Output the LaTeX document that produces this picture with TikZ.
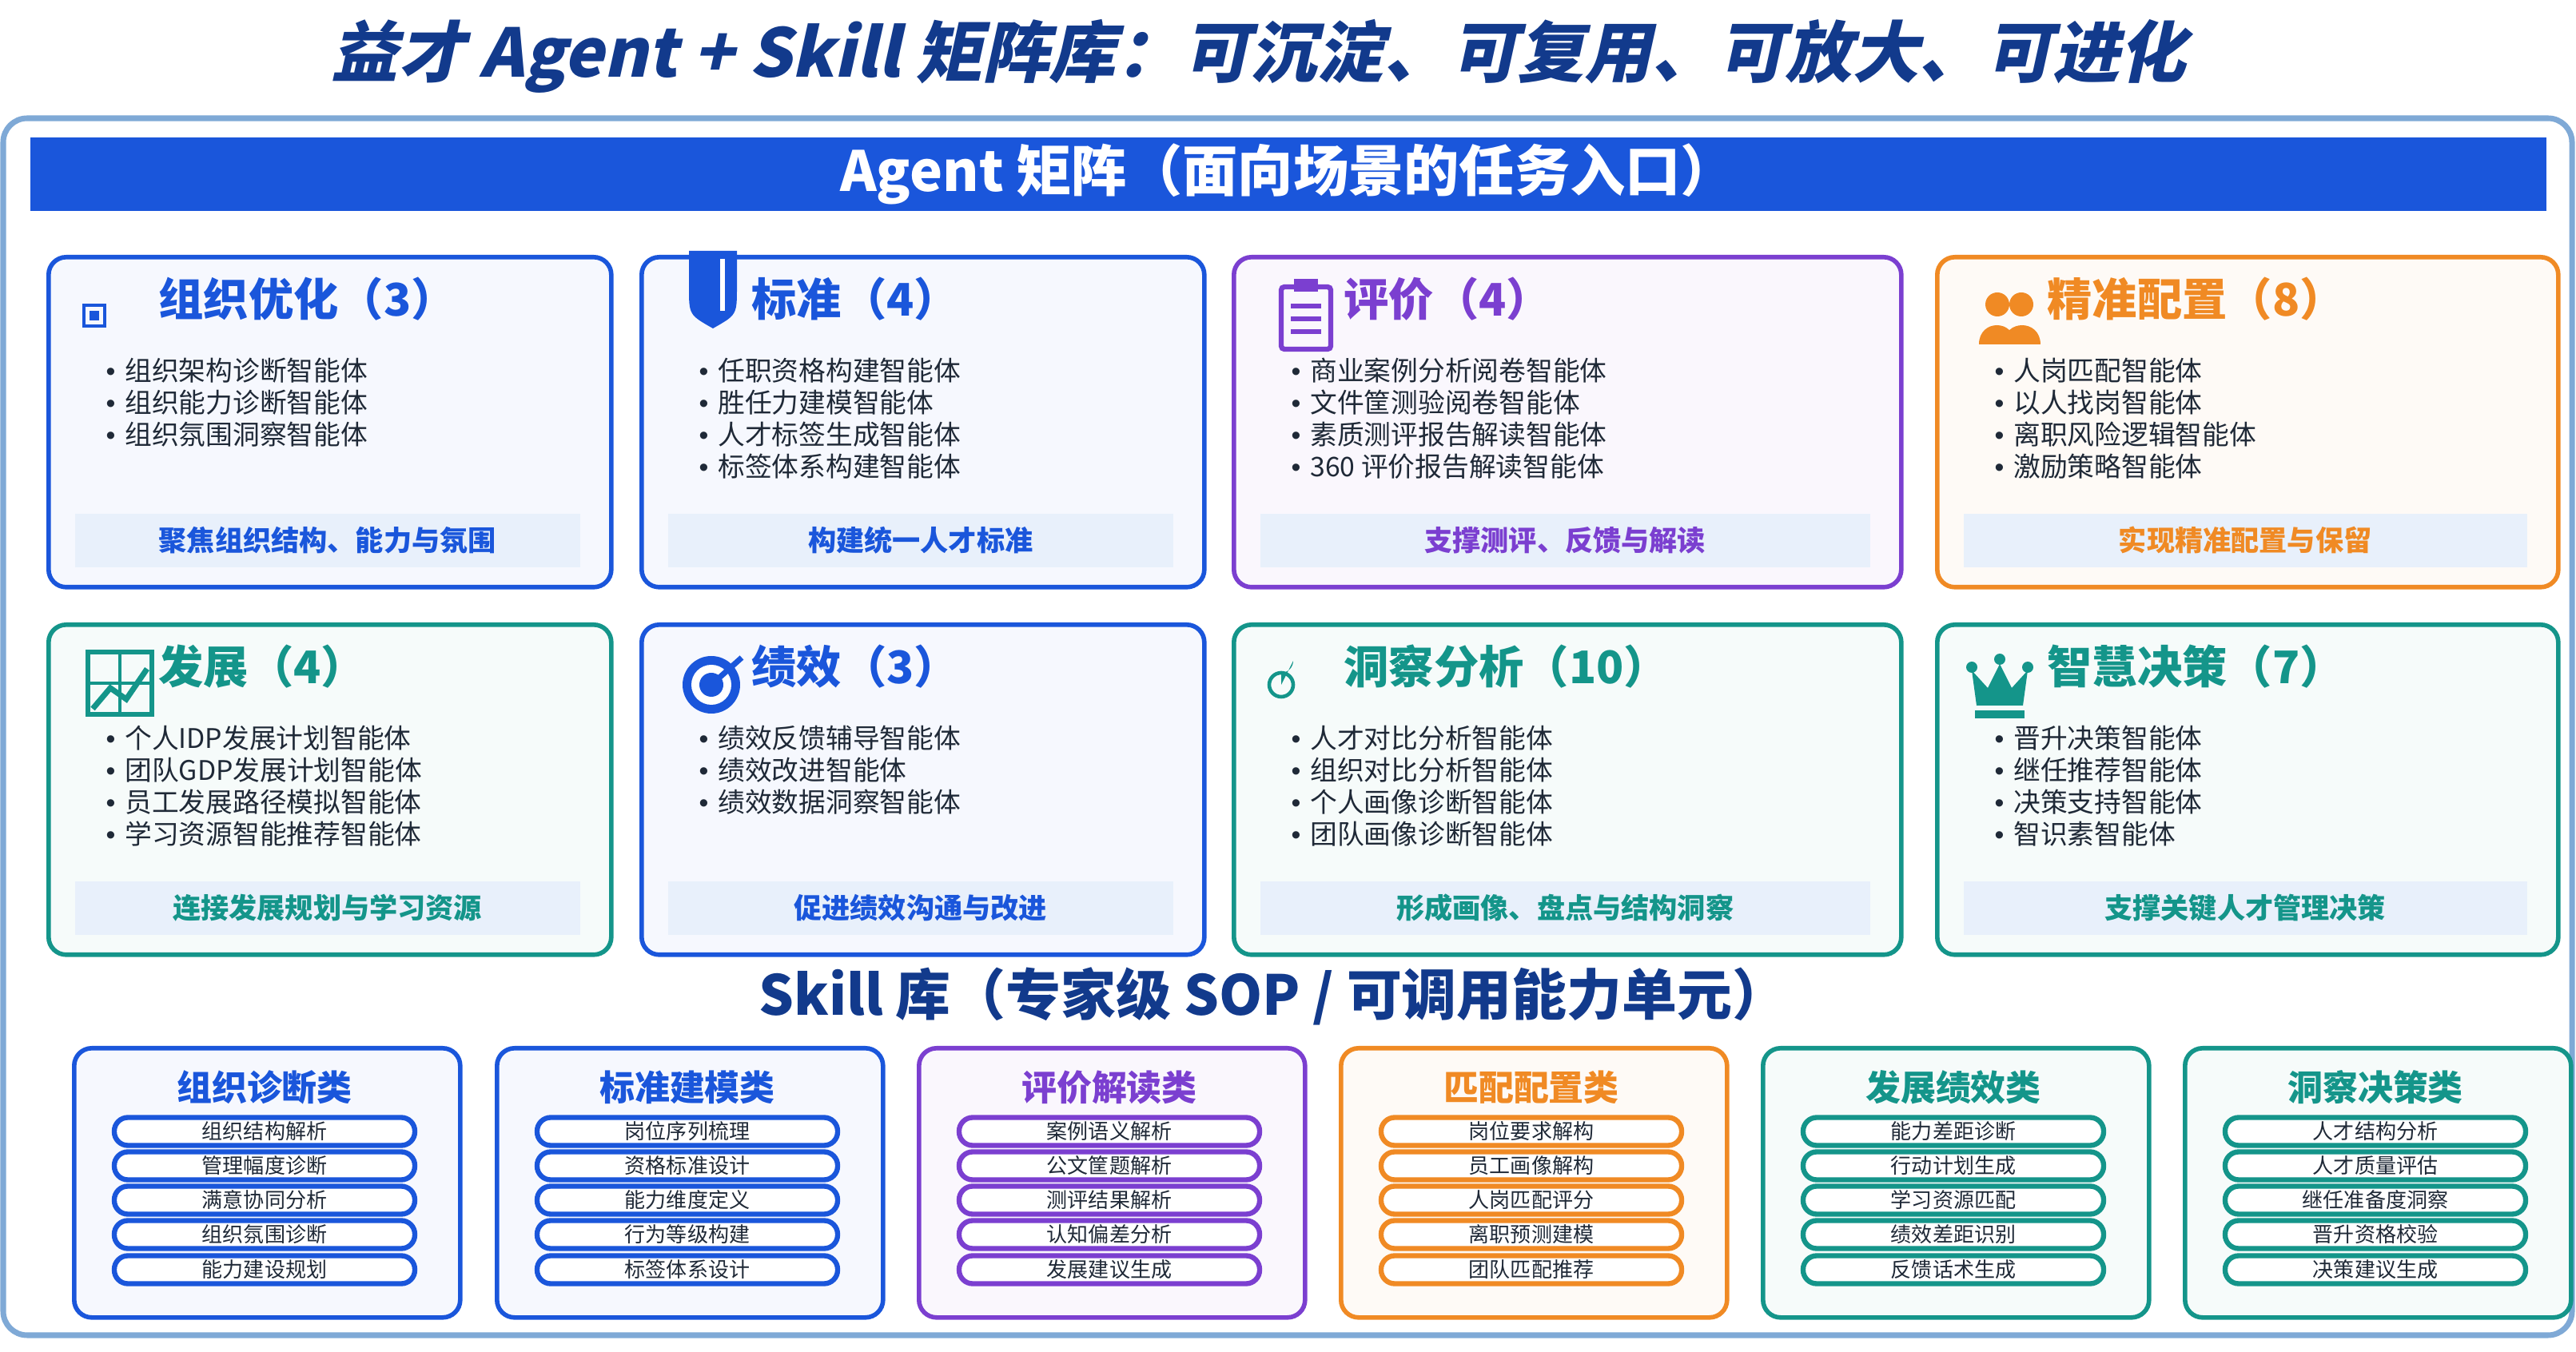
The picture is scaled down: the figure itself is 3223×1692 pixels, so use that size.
\documentclass[tikz,border=0pt]{standalone}
\usepackage{fontspec}
\setmainfont{Noto Sans CJK SC}
\newfontfamily\titlefont{Noto Sans CJK SC}[FakeSlant=0.22]
\newfontfamily\lat{Liberation Sans}
\newcommand\bul{{\lat •}\hspace{0.35em}}
\usetikzlibrary{calc}
\definecolor{cblue}{HTML}{1A56DB}
\definecolor{cpurple}{HTML}{7B3FD0}
\definecolor{corange}{HTML}{F08A24}
\definecolor{cteal}{HTML}{14958A}
\definecolor{navy}{HTML}{123A8C}
\definecolor{dtext}{HTML}{1F2937}
\definecolor{panel}{HTML}{7FA9D6}
\definecolor{foot}{HTML}{E8F0FB}
\tikzset{
  card/.style={draw=#1, line width=1.6pt, rounded corners=22*0.01cm, fill=#1!4!white, inner sep=0pt},
  footbox/.style={fill=foot, inner sep=0pt, text=#1, font=\fontsize{10}{12}\selectfont\bfseries},
  pill/.style={draw=#1, line width=1.8pt, fill=white, rounded corners=17*0.01cm, minimum width=376*0.01cm, minimum height=35*0.01cm, inner sep=0pt, font=\fontsize{7.4}{8}\selectfont, text=dtext},
}
% #1 name #2 x #3 y #4 w #5 color #6 title #7 bullets #8 footer
\newcommand\acard[8]{%
  \node[card=#5, minimum width=#4*0.01cm, minimum height=413*0.01cm, anchor=north west] (#1) at (#2,#3) {};
  \node[anchor=west, inner sep=0pt, text=#5, font=\fontsize{16}{18}\selectfont\bfseries] (#1t) at ($(#1.north west)+(140,55)$) {#6};
  \node[anchor=north west, inner sep=0pt, align=left, text=dtext, font=\fontsize{9.6}{11.4}\selectfont] (#1b) at ($(#1.north west)+(74,128)$) {#7};
  \node[footbox=#5, minimum width=(#4-72)*0.01cm, minimum height=67*0.01cm, anchor=north west] (#1f) at ($(#1.north west)+(35,323)$) {#8};
}
% #1 name #2 x #3 color #4 title #5-#9 items
\newcommand\scard[9]{%
  \node[card=#3, minimum width=483*0.01cm, minimum height=337*0.01cm, anchor=north west] (#1) at (#2,1309) {};
  \node[text=#3, inner sep=0pt, font=\fontsize{12.5}{14}\selectfont\bfseries] (#1t) at ($(#1.north west)+(241,52)$) {#4};
  \node[pill=#3] (#1a) at ($(#1.north west)+(241,107)$) {#5};
  \node[pill=#3] (#1b) at ($(#1.north west)+(241,150)$) {#6};
  \node[pill=#3] (#1c) at ($(#1.north west)+(241,193)$) {#7};
  \node[pill=#3] (#1d) at ($(#1.north west)+(241,236)$) {#8};
  \node[pill=#3] (#1e) at ($(#1.north west)+(241,280)$) {#9};
}
\begin{document}
\begin{tikzpicture}[x=0.01cm,y=-0.01cm]
\useasboundingbox[fill=white] (0,0) rectangle (3223,1692);
\node[text=navy, font=\titlefont\fontsize{23.8}{27}\selectfont\bfseries] (title) at (1575,70) {益才 Agent + Skill 矩阵库：可沉淀、可复用、可放大、可进化};
\draw[panel, line width=2pt, fill=white, rounded corners=30*0.01cm] (4,148) rectangle (3218,1671);
\node[fill=cblue, minimum width=3148*0.01cm, minimum height=92*0.01cm, inner sep=0pt, text=white, font=\fontsize{19.7}{22}\selectfont\bfseries, anchor=north west] (banner) at (37,171) {Agent 矩阵（面向场景的任务入口）};

\acard{a1}{58}{319}{704}{cblue}{组织优化（3）}{\bul 组织架构诊断智能体\\\bul 组织能力诊断智能体\\\bul 组织氛围洞察智能体}{聚焦组织结构、能力与氛围}
\acard{a2}{800}{319}{704}{cblue}{标准（4）}{\bul 任职资格构建智能体\\\bul 胜任力建模智能体\\\bul 人才标签生成智能体\\\bul 标签体系构建智能体}{构建统一人才标准}
\acard{a3}{1541}{319}{835}{cpurple}{评价（4）}{\bul 商业案例分析阅卷智能体\\\bul 文件筐测验阅卷智能体\\\bul 素质测评报告解读智能体\\\bul 360 评价报告解读智能体}{支撑测评、反馈与解读}
\acard{a4}{2421}{319}{777}{corange}{精准配置（8）}{\bul 人岗匹配智能体\\\bul 以人找岗智能体\\\bul 离职风险逻辑智能体\\\bul 激励策略智能体}{实现精准配置与保留}
\acard{b1}{58}{779}{704}{cteal}{发展（4）}{\bul 个人IDP发展计划智能体\\\bul 团队GDP发展计划智能体\\\bul 员工发展路径模拟智能体\\\bul 学习资源智能推荐智能体}{连接发展规划与学习资源}
\acard{b2}{800}{779}{704}{cblue}{绩效（3）}{\bul 绩效反馈辅导智能体\\\bul 绩效改进智能体\\\bul 绩效数据洞察智能体}{促进绩效沟通与改进}
\acard{b3}{1541}{779}{835}{cteal}{洞察分析（10）}{\bul 人才对比分析智能体\\\bul 组织对比分析智能体\\\bul 个人画像诊断智能体\\\bul 团队画像诊断智能体}{形成画像、盘点与结构洞察}
\acard{b4}{2421}{779}{777}{cteal}{智慧决策（7）}{\bul 晋升决策智能体\\\bul 继任推荐智能体\\\bul 决策支持智能体\\\bul 智识素智能体}{支撑关键人才管理决策}

% icons
\draw[cblue, line width=1.2pt] ($(a1.north west)+(47,63)$) rectangle ($(a1.north west)+(73,89)$);
\fill[cblue] ($(a1.north west)+(54,70)$) rectangle ($(a1.north west)+(66,82)$);
\fill[cblue] ($(a2.north west)+(62,-5)$) -- ($(a2.north west)+(122,-5)$) -- ($(a2.north west)+(122,40)$) .. controls ($(a2.north west)+(122,75)$) .. ($(a2.north west)+(92,92)$) .. controls ($(a2.north west)+(62,75)$) .. ($(a2.north west)+(62,40)$) -- cycle;
\draw[white, line width=1.5pt] ($(a2.north west)+(104,5)$) -- ($(a2.north west)+(104,70)$);
\draw[cpurple, line width=1.8pt, rounded corners=4*0.01cm] ($(a3.north west)+(62,40)$) rectangle ($(a3.north west)+(124,118)$);
\fill[cpurple] ($(a3.north west)+(78,30)$) rectangle ($(a3.north west)+(108,46)$);
\foreach \yy in {64,80,96} \draw[cpurple, line width=1.6pt] ($(a3.north west)+(74,\yy)$) -- ($(a3.north west)+(112,\yy)$);
\fill[corange] ($(a4.north west)+(78,62)$) circle (15);
\fill[corange] ($(a4.north west)+(108,62)$) circle (15);
\fill[corange] ($(a4.north west)+(55,112)$) .. controls ($(a4.north west)+(55,80)$) and ($(a4.north west)+(100,80)$) .. ($(a4.north west)+(100,112)$) -- cycle;
\fill[corange] ($(a4.north west)+(86,112)$) .. controls ($(a4.north west)+(86,80)$) and ($(a4.north west)+(132,80)$) .. ($(a4.north west)+(132,112)$) -- cycle;
\draw[cteal, line width=1.8pt] ($(b1.north west)+(52,37)$) rectangle ($(b1.north west)+(132,115)$);
\draw[cteal, line width=1pt] ($(b1.north west)+(52,76)$) -- ($(b1.north west)+(132,76)$) ($(b1.north west)+(92,37)$) -- ($(b1.north west)+(92,115)$);
\draw[cteal, line width=2pt] ($(b1.north west)+(58,108)$) -- ($(b1.north west)+(80,82)$) -- ($(b1.north west)+(100,96)$) -- ($(b1.north west)+(126,58)$);
\fill[cblue] ($(b2.north west)+(90,78)$) circle (36);
\fill[white] ($(b2.north west)+(90,78)$) circle (25);
\fill[cblue] ($(b2.north west)+(90,78)$) circle (15);
\draw[cblue, line width=2pt] ($(b2.north west)+(90,78)$) -- ($(b2.north west)+(128,44)$);
\draw[cteal, line width=1.3pt] ($(b3.north west)+(62,78)$) circle (15);
\fill[cteal] ($(b3.north west)+(62,78)$) -- ++(0,-15) arc (90:0:15) -- cycle;
\fill[cteal] ($(b4.north west)+(50,110)$) rectangle ($(b4.north west)+(112,120)$);
\fill[cteal] ($(b4.north west)+(52,104)$) -- ($(b4.north west)+(46,60)$) -- ($(b4.north west)+(66,82)$) -- ($(b4.north west)+(81,52)$) -- ($(b4.north west)+(96,82)$) -- ($(b4.north west)+(116,60)$) -- ($(b4.north west)+(110,104)$) -- cycle;
\foreach \px/\py in {46/56,81/46,116/56} \fill[cteal] ($(b4.north west)+(\px,\py)$) circle (7);

\node[text=navy, font=\fontsize{19.6}{22}\selectfont\bfseries] (skillhead) at (1593,1247) {Skill 库（专家级 SOP / 可调用能力单元）};

\scard{s1}{90}{cblue}{组织诊断类}{组织结构解析}{管理幅度诊断}{满意协同分析}{组织氛围诊断}{能力建设规划}
\scard{s2}{619}{cblue}{标准建模类}{岗位序列梳理}{资格标准设计}{能力维度定义}{行为等级构建}{标签体系设计}
\scard{s3}{1147}{cpurple}{评价解读类}{案例语义解析}{公文筐题解析}{测评结果解析}{认知偏差分析}{发展建议生成}
\scard{s4}{1675}{corange}{匹配配置类}{岗位要求解构}{员工画像解构}{人岗匹配评分}{离职预测建模}{团队匹配推荐}
\scard{s5}{2203}{cteal}{发展绩效类}{能力差距诊断}{行动计划生成}{学习资源匹配}{绩效差距识别}{反馈话术生成}
\scard{s6}{2731}{cteal}{洞察决策类}{人才结构分析}{人才质量评估}{继任准备度洞察}{晋升资格校验}{决策建议生成}
\end{tikzpicture}
\end{document}
